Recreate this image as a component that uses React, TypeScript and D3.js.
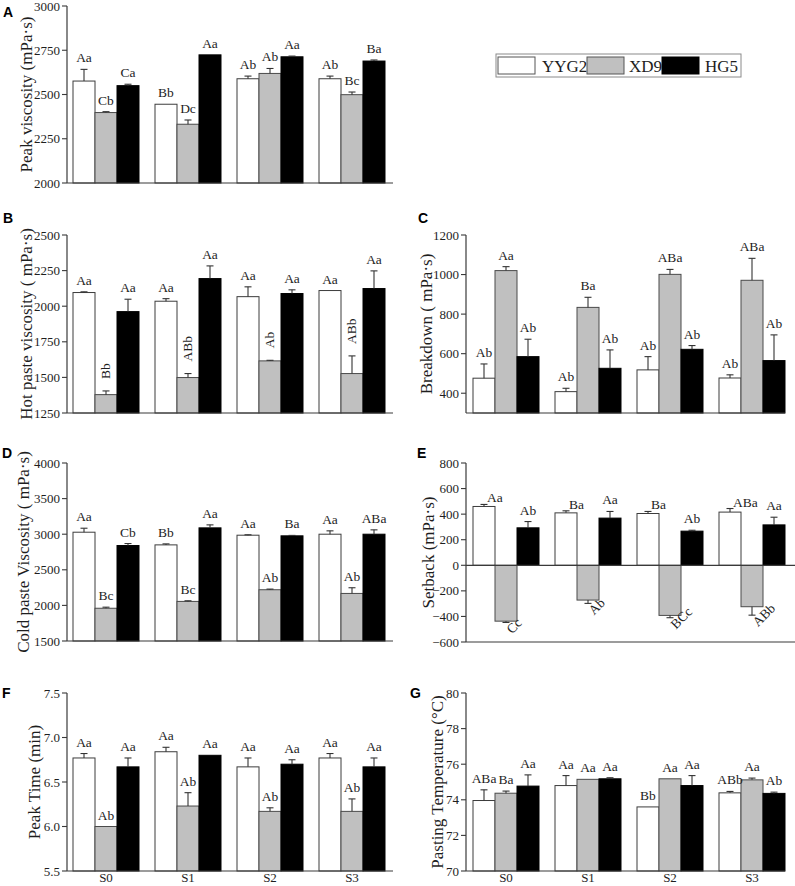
import React from "react";
import * as d3 from "d3";

const categories = ["S0", "S1", "S2", "S3"];
const seriesNames = ["YYG2", "XD9", "HG5"];

// A: Peak viscosity
const peakViscYYG2 = [2576, 2445, 2589, 2589];
const peakViscXD9 = [2398, 2332, 2619, 2499];
const peakViscHG5 = [2550, 2724, 2713, 2689];
const peakViscErrYYG2 = [66, 0, 15, 15];
const peakViscErrXD9 = [5, 24, 28, 15];
const peakViscErrHG5 = [8, 0, 4, 6];
const peakViscLabYYG2 = ["Aa", "Bb", "Ab", "Ab"];
const peakViscLabXD9 = ["Cb", "Dc", "Ab", "Bc"];
const peakViscLabHG5 = ["Ca", "Aa", "Aa", "Ba"];
const peakViscTicks = [2000, 2250, 2500, 2750, 3000];

// B: Hot paste viscosity
const hotYYG2 = [2096, 2035, 2067, 2110];
const hotXD9 = [1379, 1499, 1616, 1527];
const hotHG5 = [1962, 2194, 2089, 2124];
const hotErrYYG2 = [5, 18, 69, 0];
const hotErrXD9 = [26, 28, 4, 124];
const hotErrHG5 = [87, 89, 26, 124];
const hotLabYYG2 = ["Aa", "Aa", "Aa", "Aa"];
const hotLabXD9 = ["Bb", "ABb", "Ab", "ABb"];
const hotLabHG5 = ["Aa", "Aa", "Aa", "Aa"];
const hotTicks = [1250, 1500, 1750, 2000, 2250, 2500];

// C: Breakdown
const bdYYG2 = [476, 408, 518, 477];
const bdXD9 = [1020, 834, 1001, 971];
const bdHG5 = [585, 526, 622, 565];
const bdErrYYG2 = [72, 17, 67, 16];
const bdErrXD9 = [20, 51, 25, 111];
const bdErrHG5 = [88, 93, 19, 130];
const bdLabYYG2 = ["Ab", "Ab", "Ab", "Ab"];
const bdLabXD9 = ["Aa", "Ba", "ABa", "ABa"];
const bdLabHG5 = ["Ab", "Ab", "Ab", "Ab"];
const bdTicks = [400, 600, 800, 1000, 1200];

// D: Cold paste viscosity
const coldYYG2 = [3028, 2850, 2986, 3000];
const coldXD9 = [1960, 2056, 2220, 2168];
const coldHG5 = [2841, 3089, 2977, 3000];
const coldErrYYG2 = [56, 14, 6, 47];
const coldErrXD9 = [15, 9, 9, 80];
const coldErrHG5 = [28, 42, 6, 61];
const coldLabYYG2 = ["Aa", "Bb", "Aa", "Aa"];
const coldLabXD9 = ["Bc", "Bc", "Ab", "Ab"];
const coldLabHG5 = ["Cb", "Aa", "Ba", "ABa"];
const coldTicks = [1500, 2000, 2500, 3000, 3500, 4000];

// E: Setback
const sbYYG2 = [460, 410, 405, 416];
const sbXD9 = [-437, -272, -392, -324];
const sbHG5 = [293, 369, 267, 316];
const sbErrYYG2 = [16, 16, 16, 28];
const sbErrXD9 = [10, 26, 18, 66];
const sbErrHG5 = [49, 52, 7, 60];
const sbLabYYG2 = ["Aa", "Ba", "Ba", "ABa"];
const sbLabXD9 = ["Cc", "Ab", "BCc", "ABb"];
const sbLabHG5 = ["Ab", "Aa", "Ab", "Aa"];
const sbTicks = [-600, -400, -200, 0, 200, 400, 600, 800];

// F: Peak time
const ptYYG2 = [6.77, 6.84, 6.67, 6.77];
const ptXD9 = [6.0, 6.23, 6.17, 6.17];
const ptHG5 = [6.67, 6.8, 6.7, 6.67];
const ptErrYYG2 = [0.05, 0.05, 0.1, 0.05];
const ptErrXD9 = [0, 0.15, 0.04, 0.14];
const ptErrHG5 = [0.1, 0, 0.05, 0.1];
const ptLabYYG2 = ["Aa", "Aa", "Aa", "Aa"];
const ptLabXD9 = ["Ab", "Ab", "Ab", "Ab"];
const ptLabHG5 = ["Aa", "Aa", "Aa", "Aa"];
const ptTicks = [5.5, 6.0, 6.5, 7.0, 7.5];

// G: Pasting temperature
const tempYYG2 = [73.96, 74.8, 73.6, 74.39];
const tempXD9 = [74.37, 75.15, 75.18, 75.12];
const tempHG5 = [74.77, 75.18, 74.8, 74.36];
const tempErrYYG2 = [0.6, 0.56, 0, 0.08];
const tempErrXD9 = [0.12, 0, 0, 0.1];
const tempErrHG5 = [0.63, 0.06, 0.56, 0.07];
const tempLabYYG2 = ["ABa", "Aa", "Bb", "ABb"];
const tempLabXD9 = ["Ba", "Aa", "Aa", "Aa"];
const tempLabHG5 = ["Aa", "Aa", "Aa", "Ab"];
const tempTicks = [70, 72, 74, 76, 78, 80];

const SERIF = "'Liberation Serif', 'Times New Roman', Times, serif";
const SANS = "'Liberation Sans', Arial, Helvetica, sans-serif";
const AXIS = "#3a3a3a";
const TEXT = "#1e1e1e";
const fills = ["#ffffff", "#c0c0c0", "#000000"];
const strokes = ["#3c3c3c", "#4a4a4a", "#000000"];

type Mode = "normal" | "vertical" | "right" | "diag";

type PanelCfg = {
  letter: string;
  letterX: number;
  letterY: number;
  title: string;
  titleX: number;
  x0: number;
  x1: number;
  groupStart: number;
  yTop: number;
  yBot: number;
  domain: [number, number];
  ticks: number[];
  fmt: (v: number) => string;
  values: number[][];
  errors: number[][];
  labels: string[][];
  modes: Mode[];
  zeroLine?: boolean;
  xLabels?: boolean;
};

const intFmt = (v: number) => d3.format("d")(v);

const panels: PanelCfg[] = [
  {
    letter: "A", letterX: 3, letterY: 17, title: "Peak viscosity (mPa·s)", titleX: 26,
    x0: 67, x1: 393, groupStart: 73, yTop: 6, yBot: 183, domain: [2000, 3000],
    ticks: peakViscTicks, fmt: intFmt,
    values: [peakViscYYG2, peakViscXD9, peakViscHG5],
    errors: [peakViscErrYYG2, peakViscErrXD9, peakViscErrHG5],
    labels: [peakViscLabYYG2, peakViscLabXD9, peakViscLabHG5],
    modes: ["normal", "normal", "normal"],
  },
  {
    letter: "B", letterX: 3, letterY: 223, title: "Hot paste viscosity ( mPa·s)", titleX: 26,
    x0: 67, x1: 393, groupStart: 73, yTop: 235, yBot: 413, domain: [1250, 2500],
    ticks: hotTicks, fmt: intFmt,
    values: [hotYYG2, hotXD9, hotHG5],
    errors: [hotErrYYG2, hotErrXD9, hotErrHG5],
    labels: [hotLabYYG2, hotLabXD9, hotLabHG5],
    modes: ["normal", "vertical", "normal"],
  },
  {
    letter: "C", letterX: 418, letterY: 223, title: "Breakdown ( mPa·s)", titleX: 426,
    x0: 466, x1: 785, groupStart: 473, yTop: 235, yBot: 413, domain: [300, 1200],
    ticks: bdTicks, fmt: intFmt,
    values: [bdYYG2, bdXD9, bdHG5],
    errors: [bdErrYYG2, bdErrXD9, bdErrHG5],
    labels: [bdLabYYG2, bdLabXD9, bdLabHG5],
    modes: ["normal", "normal", "normal"],
  },
  {
    letter: "D", letterX: 2, letterY: 458, title: "Cold paste Viscosity ( mPa·s)", titleX: 23,
    x0: 67, x1: 393, groupStart: 73, yTop: 463, yBot: 641, domain: [1500, 4000],
    ticks: coldTicks, fmt: intFmt,
    values: [coldYYG2, coldXD9, coldHG5],
    errors: [coldErrYYG2, coldErrXD9, coldErrHG5],
    labels: [coldLabYYG2, coldLabXD9, coldLabHG5],
    modes: ["normal", "normal", "normal"],
  },
  {
    letter: "E", letterX: 417, letterY: 458, title: "Setback (mPa·s)", titleX: 428,
    x0: 466, x1: 795, groupStart: 473, yTop: 463, yBot: 642, domain: [-600, 800],
    ticks: sbTicks, fmt: intFmt,
    values: [sbYYG2, sbXD9, sbHG5],
    errors: [sbErrYYG2, sbErrXD9, sbErrHG5],
    labels: [sbLabYYG2, sbLabXD9, sbLabHG5],
    modes: ["right", "diag", "normal"],
    zeroLine: true,
  },
  {
    letter: "F", letterX: 2, letterY: 698, title: "Peak Time (min)", titleX: 34,
    x0: 67, x1: 393, groupStart: 73, yTop: 693, yBot: 871, domain: [5.5, 7.5],
    ticks: ptTicks, fmt: (v: number) => d3.format(".1f")(v),
    values: [ptYYG2, ptXD9, ptHG5],
    errors: [ptErrYYG2, ptErrXD9, ptErrHG5],
    labels: [ptLabYYG2, ptLabXD9, ptLabHG5],
    modes: ["normal", "normal", "normal"],
    xLabels: true,
  },
  {
    letter: "G", letterX: 410, letterY: 698, title: "Pasting Temperature (°C)", titleX: 437,
    x0: 466, x1: 785, groupStart: 473, yTop: 693, yBot: 871, domain: [70, 80],
    ticks: tempTicks, fmt: intFmt,
    values: [tempYYG2, tempXD9, tempHG5],
    errors: [tempErrYYG2, tempErrXD9, tempErrHG5],
    labels: [tempLabYYG2, tempLabXD9, tempLabHG5],
    modes: ["normal", "normal", "normal"],
    xLabels: true,
  },
];

const GROUP_STEP = 82;
const GROUP_GAP = 16;

function Panel({ cfg }: { cfg: PanelCfg }) {
  const y = d3.scaleLinear().domain(cfg.domain).range([cfg.yBot, cfg.yTop]);
  const xg = d3
    .scaleBand<string>()
    .domain(categories)
    .range([cfg.groupStart, cfg.groupStart + categories.length * GROUP_STEP - GROUP_GAP])
    .paddingInner(GROUP_GAP / GROUP_STEP)
    .paddingOuter(0);
  const xs = d3.scaleBand<string>().domain(seriesNames).range([0, xg.bandwidth()]).padding(0);
  const base = cfg.zeroLine ? 0 : cfg.domain[0];
  const capW = 3.5;

  const bars: React.ReactNode[] = [];
  const errs: React.ReactNode[] = [];
  const labs: React.ReactNode[] = [];

  seriesNames.forEach((s, si) => {
    categories.forEach((c, ci) => {
      const v = cfg.values[si][ci];
      const e = cfg.errors[si][ci];
      const bx = (xg(c) as number) + (xs(s) as number);
      const bw = xs.bandwidth();
      const cx = bx + bw / 2;
      const yv = y(v);
      const yb = y(base);
      bars.push(
        <rect
          key={`b-${s}-${c}`}
          x={bx}
          y={Math.min(yv, yb)}
          width={bw}
          height={Math.abs(yb - yv)}
          fill={fills[si]}
          stroke={strokes[si]}
          strokeWidth={1}
        />
      );
      const neg = v < 0;
      const ye = neg ? y(v - e) : y(v + e);
      if (e > 0) {
        errs.push(
          <g key={`e-${s}-${c}`} stroke="#333" strokeWidth={1.1}>
            <line x1={cx} x2={cx} y1={yv} y2={ye} />
            <line x1={cx - capW} x2={cx + capW} y1={ye} y2={ye} />
          </g>
        );
      }
      const lab = cfg.labels[si][ci];
      const mode = cfg.modes[si];
      const common = { fontFamily: SERIF, fontSize: 13.5, fill: TEXT } as const;
      if (mode === "normal") {
        labs.push(
          <text key={`l-${s}-${c}`} x={cx} y={ye - 7} textAnchor="middle" {...common}>
            {lab}
          </text>
        );
      } else if (mode === "vertical") {
        labs.push(
          <text
            key={`l-${s}-${c}`}
            transform={`translate(${cx + 4},${ye - 12}) rotate(-90)`}
            textAnchor="start"
            {...common}
          >
            {lab}
          </text>
        );
      } else if (mode === "right") {
        labs.push(
          <text key={`l-${s}-${c}`} x={cx + 3} y={ye - 2} textAnchor="start" {...common}>
            {lab}
          </text>
        );
      } else {
        labs.push(
          <text
            key={`l-${s}-${c}`}
            transform={`translate(${cx + 6},${ye + 12}) rotate(-45)`}
            textAnchor="start"
            {...common}
          >
            {lab}
          </text>
        );
      }
    });
  });

  const midY = (cfg.yTop + cfg.yBot) / 2;

  return (
    <g>
      <text x={cfg.letterX} y={cfg.letterY} fontFamily={SANS} fontWeight="bold" fontSize={14} fill="#000">
        {cfg.letter}
      </text>
      <text
        transform={`translate(${cfg.titleX},${midY}) rotate(-90)`}
        textAnchor="middle"
        dy="0.35em"
        fontFamily={SERIF}
        fontSize={17}
        fill={TEXT}
      >
        {cfg.title}
      </text>
      {bars}
      {errs}
      {labs}
      {/* y axis */}
      <line x1={cfg.x0} x2={cfg.x0} y1={cfg.yTop} y2={cfg.yBot} stroke={AXIS} strokeWidth={1.2} />
      {cfg.ticks.map((t) => (
        <g key={`t-${t}`}>
          <line x1={cfg.x0 - 5} x2={cfg.x0} y1={y(t)} y2={y(t)} stroke={AXIS} strokeWidth={1.1} />
          <text
            x={cfg.x0 - 7}
            y={y(t)}
            dy="0.35em"
            textAnchor="end"
            fontFamily={SERIF}
            fontSize={13}
            fill={TEXT}
          >
            {cfg.fmt(t)}
          </text>
        </g>
      ))}
      {/* x axis */}
      <line x1={cfg.x0} x2={cfg.x1} y1={cfg.yBot} y2={cfg.yBot} stroke={AXIS} strokeWidth={1.2} />
      {cfg.zeroLine && (
        <line x1={cfg.x0} x2={cfg.x1} y1={y(0)} y2={y(0)} stroke={AXIS} strokeWidth={1.2} />
      )}
      {cfg.xLabels &&
        categories.map((c) => (
          <text
            key={`x-${c}`}
            x={(xg(c) as number) + xg.bandwidth() / 2}
            y={882}
            textAnchor="middle"
            fontFamily={SERIF}
            fontSize={13}
            fill={TEXT}
          >
            {c}
          </text>
        ))}
    </g>
  );
}

function Legend() {
  const items = [
    { sx: 498, tx: 542 },
    { sx: 587, tx: 629 },
    { sx: 662, tx: 705 },
  ];
  return (
    <g>
      <rect x={496} y={54} width={245} height={23} fill="#fff" stroke="#8a8a8a" strokeWidth={1} />
      {seriesNames.map((s, i) => (
        <g key={s}>
          <rect
            x={items[i].sx}
            y={57}
            width={37}
            height={17}
            fill={fills[i]}
            stroke={i === 2 ? "#000" : "#555"}
            strokeWidth={1}
          />
          <text x={items[i].tx} y={72} fontFamily={SERIF} fontSize={17} fill={TEXT}>
            {s}
          </text>
        </g>
      ))}
    </g>
  );
}

export default function App() {
  return (
    <svg
      width={795}
      height={886}
      viewBox="0 0 795 886"
      style={{ position: "absolute", left: 0, top: 0, background: "#fff" }}
    >
      <rect x={0} y={0} width={795} height={886} fill="#fff" />
      {panels.map((p) => (
        <Panel key={p.letter} cfg={p} />
      ))}
      <Legend />
    </svg>
  );
}
